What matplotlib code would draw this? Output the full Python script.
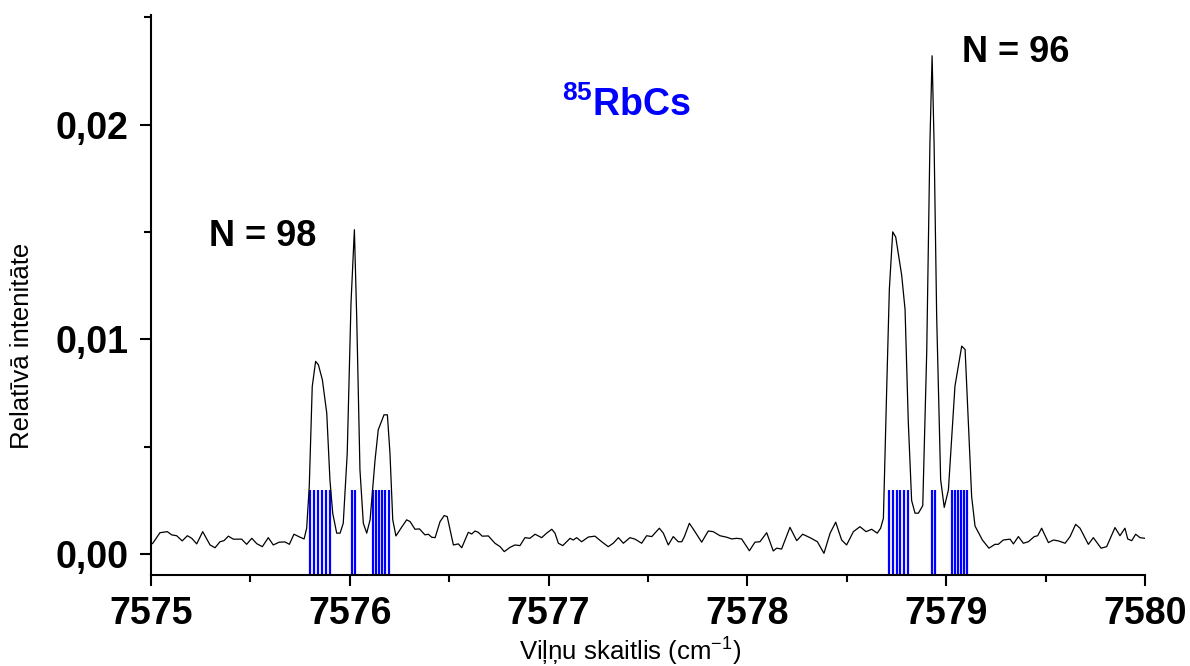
import matplotlib
matplotlib.use("Agg")
import matplotlib.pyplot as plt
from matplotlib.ticker import MultipleLocator, FuncFormatter

plt.rcParams['font.family'] = ['Liberation Sans', 'DejaVu Sans']
plt.rcParams['mathtext.fontset'] = 'custom'
plt.rcParams['mathtext.rm'] = 'Liberation Sans'
plt.rcParams['mathtext.bf'] = 'Liberation Sans:bold'
plt.rcParams['mathtext.default'] = 'regular'

# spektrs (nolasīts no attēla)
vilnu_sk = [7575.000, 7575.009, 7575.045, 7575.082, 7575.104, 7575.129, 7575.157, 7575.183,
            7575.205, 7575.230, 7575.260, 7575.297, 7575.322, 7575.347, 7575.367, 7575.389,
            7575.414, 7575.439, 7575.456, 7575.481, 7575.507, 7575.532, 7575.560, 7575.590,
            7575.615, 7575.645, 7575.674, 7575.696, 7575.719, 7575.750, 7575.770, 7575.783,
            7575.796, 7575.811, 7575.828, 7575.842, 7575.862, 7575.884, 7575.900, 7575.914,
            7575.934, 7575.951, 7575.967, 7575.987, 7576.006, 7576.023, 7576.035, 7576.051,
            7576.068, 7576.085, 7576.102, 7576.127, 7576.143, 7576.172, 7576.189, 7576.202,
            7576.216, 7576.232, 7576.261, 7576.286, 7576.303, 7576.328, 7576.350, 7576.378,
            7576.395, 7576.412, 7576.429, 7576.454, 7576.475, 7576.490, 7576.521, 7576.546,
            7576.563, 7576.596, 7576.613, 7576.630, 7576.646, 7576.666, 7576.697, 7576.730,
            7576.756, 7576.777, 7576.806, 7576.831, 7576.856, 7576.881, 7576.906, 7576.932,
            7576.965, 7576.990, 7577.016, 7577.032, 7577.049, 7577.071, 7577.091, 7577.108,
            7577.124, 7577.141, 7577.166, 7577.200, 7577.233, 7577.267, 7577.300, 7577.325,
            7577.351, 7577.376, 7577.409, 7577.435, 7577.468, 7577.493, 7577.519, 7577.557,
            7577.577, 7577.602, 7577.627, 7577.652, 7577.670, 7577.683, 7577.708, 7577.736,
            7577.770, 7577.803, 7577.828, 7577.862, 7577.896, 7577.921, 7577.946, 7577.971,
            7578.010, 7578.038, 7578.063, 7578.097, 7578.130, 7578.147, 7578.172, 7578.214,
            7578.248, 7578.278, 7578.315, 7578.352, 7578.385, 7578.416, 7578.444, 7578.474,
            7578.499, 7578.533, 7578.566, 7578.597, 7578.625, 7578.653, 7578.670, 7578.684,
            7578.701, 7578.714, 7578.731, 7578.746, 7578.776, 7578.793, 7578.809, 7578.826,
            7578.843, 7578.860, 7578.882, 7578.902, 7578.918, 7578.929, 7578.939, 7578.952,
            7578.972, 7578.990, 7579.011, 7579.044, 7579.056, 7579.078, 7579.095, 7579.111,
            7579.128, 7579.145, 7579.162, 7579.182, 7579.215, 7579.245, 7579.262, 7579.287,
            7579.321, 7579.338, 7579.363, 7579.388, 7579.413, 7579.443, 7579.460, 7579.480,
            7579.514, 7579.539, 7579.564, 7579.598, 7579.623, 7579.651, 7579.673, 7579.715,
            7579.740, 7579.757, 7579.779, 7579.807, 7579.849, 7579.874, 7579.899, 7579.913,
            7579.933, 7579.953, 7579.975, 7580.000]
intensitate = [0.00045, 0.00050, 0.00099, 0.00104, 0.00089, 0.00085, 0.00061, 0.00085,
               0.00073, 0.00047, 0.00104, 0.00042, 0.00029, 0.00057, 0.00062, 0.00083,
               0.00069, 0.00069, 0.00069, 0.00045, 0.00073, 0.00048, 0.00034, 0.00076,
               0.00042, 0.00055, 0.00056, 0.00045, 0.00092, 0.00078, 0.00070, 0.00120,
               0.00314, 0.00780, 0.00897, 0.00881, 0.00811, 0.00656, 0.00345, 0.00190,
               0.00097, 0.00097, 0.00143, 0.00469, 0.01169, 0.01510, 0.01091, 0.00392,
               0.00143, 0.00097, 0.00159, 0.00438, 0.00578, 0.00648, 0.00648, 0.00469,
               0.00159, 0.00084, 0.00125, 0.00159, 0.00151, 0.00115, 0.00117, 0.00089,
               0.00092, 0.00078, 0.00076, 0.00151, 0.00179, 0.00174, 0.00042, 0.00047,
               0.00029, 0.00101, 0.00093, 0.00107, 0.00101, 0.00083, 0.00084, 0.00050,
               0.00034, 0.00011, 0.00031, 0.00042, 0.00039, 0.00076, 0.00073, 0.00092,
               0.00076, 0.00097, 0.00115, 0.00097, 0.00050, 0.00039, 0.00057, 0.00073,
               0.00065, 0.00076, 0.00057, 0.00079, 0.00083, 0.00057, 0.00034, 0.00050,
               0.00076, 0.00050, 0.00076, 0.00069, 0.00050, 0.00085, 0.00081, 0.00120,
               0.00097, 0.00042, 0.00081, 0.00057, 0.00057, 0.00081, 0.00143, 0.00104,
               0.00055, 0.00107, 0.00104, 0.00085, 0.00078, 0.00070, 0.00073, 0.00070,
               0.00015, 0.00055, 0.00057, 0.00099, 0.00014, 0.00027, 0.00023, 0.00124,
               0.00062, 0.00092, 0.00076, 0.00057, 0.00003, 0.00097, 0.00148, 0.00065,
               0.00042, 0.00104, 0.00127, 0.00104, 0.00115, 0.00097, 0.00120, 0.00166,
               0.00783, 0.01234, 0.01500, 0.01476, 0.01298, 0.01138, 0.00620, 0.00249,
               0.00190, 0.00190, 0.00225, 0.00944, 0.01912, 0.02320, 0.01912, 0.01105,
               0.00346, 0.00217, 0.00298, 0.00782, 0.00847, 0.00968, 0.00952, 0.00620,
               0.00266, 0.00130, 0.00100, 0.00065, 0.00027, 0.00045, 0.00045, 0.00065,
               0.00069, 0.00047, 0.00081, 0.00050, 0.00057, 0.00081, 0.00085, 0.00120,
               0.00053, 0.00065, 0.00061, 0.00050, 0.00081, 0.00138, 0.00120, 0.00045,
               0.00076, 0.00055, 0.00027, 0.00034, 0.00123, 0.00085, 0.00120, 0.00070,
               0.00062, 0.00092, 0.00076, 0.00073]

# aprēķinātās līnijas (85RbCs)
linijas = [7575.80, 7575.82, 7575.84, 7575.86, 7575.88, 7575.90,
           7576.013, 7576.025,
           7576.115, 7576.131, 7576.147, 7576.163, 7576.179, 7576.195,
           7578.71, 7578.73, 7578.75, 7578.77, 7578.79, 7578.81,
           7578.928, 7578.942,
           7579.03, 7579.045, 7579.06, 7579.075, 7579.09, 7579.105]
linijas_augstums = 0.003

y_apakša = -0.00098
y_augša = 0.0251

fig = plt.figure(figsize=(11.9, 6.66), dpi=100)
ax = fig.add_axes([0.1269, 0.1366, 0.8353, 0.8409])

ax.vlines(linijas, y_apakša, linijas_augstums, color='#0000ff', linewidth=1.6)
ax.plot(vilnu_sk, intensitate, color='black', linewidth=0.9)

ax.set_xlim(7575, 7580)
ax.set_ylim(y_apakša, y_augša)

ax.spines['top'].set_visible(False)
ax.spines['right'].set_visible(False)
ax.spines['left'].set_linewidth(1.5)
ax.spines['bottom'].set_linewidth(1.5)

ax.xaxis.set_major_locator(MultipleLocator(1))
ax.xaxis.set_minor_locator(MultipleLocator(0.5))
ax.yaxis.set_major_locator(MultipleLocator(0.01))
ax.yaxis.set_minor_locator(MultipleLocator(0.005))
ax.yaxis.set_major_formatter(FuncFormatter(lambda v, p: f"{v:.2f}".replace('.', ',')))
ax.xaxis.set_major_formatter(FuncFormatter(lambda v, p: f"{v:.0f}"))
ax.tick_params(which='major', direction='out', length=8, width=1.5, labelsize=27)
ax.tick_params(axis='y', which='major', pad=8)
ax.tick_params(axis='x', which='major', pad=7)
ax.tick_params(which='minor', direction='out', length=5, width=1.5)
for lbl in ax.get_xticklabels() + ax.get_yticklabels():
    lbl.set_fontweight('bold')

ax.set_xlabel('Viļņu skaitlis (cm$^{-1}$)', fontsize=18.5)
ax.xaxis.set_label_coords(0.482, -0.108)
ax.set_ylabel('Relatīvā intenitāte', fontsize=18.5, va='center')
ax.yaxis.set_label_coords(-0.130, 0.41)

ax.text(7575.56, 0.01478, 'N = 98', fontsize=26, fontweight='bold', ha='center', va='center')
ax.text(7579.35, 0.02336, 'N = 96', fontsize=26, fontweight='bold', ha='center', va='center')
ax.text(7577.39, 0.0209, r'$\mathbf{^{85}RbCs}$', fontsize=27, color='#0000ff',
        ha='center', va='center')

fig.savefig('out.png', dpi=100)
